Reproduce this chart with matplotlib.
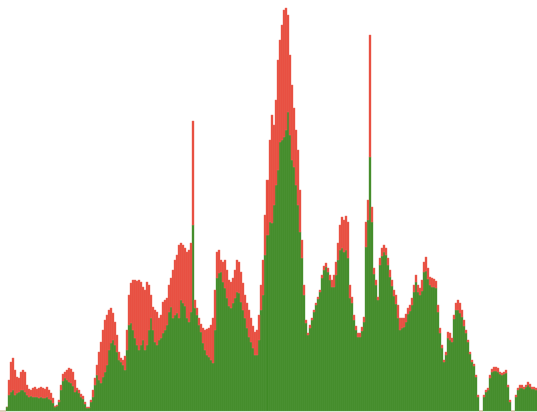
import matplotlib
matplotlib.use("Agg")
import matplotlib.pyplot as plt
import numpy as np

# Total height (green + red) per bar, and green (lower series) per bar
total = [
    0, 0, 0, 4, 31, 49, 53, 41, 34, 33,
    39, 41, 39, 26, 22, 21, 23, 24, 22, 23,
    24, 23, 22, 24, 21, 18, 13, 5, 6, 11,
    26, 37, 39, 41, 43, 42, 39, 31, 23, 21,
    17, 15, 9, 4, 4, 11, 21, 33, 46, 59,
    69, 81, 91, 96, 101, 103, 98, 89, 76, 59,
    53, 51, 55, 81, 116, 128, 131, 131, 130, 131,
    129, 124, 121, 129, 126, 116, 104, 101, 99, 93,
    96, 109, 111, 113, 126, 133, 141, 151, 156, 166,
    168, 166, 163, 159, 161, 168, 290, 111, 103, 93,
    87, 83, 81, 82, 83, 86, 93, 121, 159, 161,
    151, 149, 151, 141, 131, 129, 133, 141, 151, 149,
    139, 128, 116, 108, 101, 93, 85, 79, 81, 96,
    126, 151, 196, 231, 271, 296, 286, 311, 351, 371,
    386, 401, 403, 396, 356, 326, 303, 281, 261, 221,
    171, 126, 91, 78, 86, 93, 101, 108, 114, 121,
    136, 145, 148, 143, 136, 131, 136, 149, 168, 186,
    194, 191, 195, 189, 126, 114, 96, 85, 78, 78,
    84, 94, 189, 211, 376, 204, 143, 131, 114, 153,
    163, 166, 163, 153, 141, 131, 121, 116, 106, 93,
    93, 93, 97, 103, 106, 113, 126, 136, 126, 123,
    131, 149, 154, 143, 134, 133, 132, 130, 106, 83,
    66, 51, 59, 79, 78, 73, 96, 108, 111, 108,
    101, 91, 81, 71, 59, 51, 47, 36, 16, 0,
    0, 16, 21, 23, 36, 42, 44, 44, 43, 39,
    38, 39, 41, 26, 11, 0, 0, 16, 23, 26,
    26, 24, 26, 29, 27, 24, 24, 23,
]
green = [
    0, 0, 0, 4, 16, 19, 21, 16, 18, 19,
    21, 21, 19, 16, 14, 15, 14, 14, 14, 13,
    14, 13, 13, 14, 12, 11, 8, 4, 5, 9,
    21, 30, 33, 31, 29, 28, 25, 19, 21, 18,
    14, 12, 7, 3, 3, 9, 14, 26, 36, 31,
    28, 34, 39, 46, 61, 68, 71, 66, 59, 51,
    49, 46, 41, 61, 86, 88, 81, 73, 66, 61,
    66, 71, 61, 66, 81, 93, 81, 69, 66, 71,
    73, 78, 81, 86, 99, 104, 93, 96, 98, 93,
    111, 108, 105, 93, 89, 99, 186, 103, 96, 86,
    79, 68, 61, 56, 54, 51, 48, 81, 133, 138,
    139, 129, 123, 113, 105, 103, 108, 113, 119, 118,
    109, 101, 93, 83, 74, 69, 63, 56, 56, 71,
    101, 116, 156, 176, 189, 188, 206, 226, 241, 269,
    271, 274, 281, 299, 276, 251, 244, 226, 206, 179,
    153, 116, 88, 76, 83, 91, 99, 106, 112, 119,
    133, 141, 144, 139, 131, 124, 124, 136, 151, 161,
    163, 159, 161, 153, 113, 108, 91, 81, 74, 74,
    80, 89, 164, 191, 254, 189, 137, 126, 111, 146,
    155, 159, 156, 146, 134, 125, 115, 107, 93, 81,
    83, 84, 89, 97, 100, 106, 119, 129, 119, 116,
    120, 139, 140, 132, 126, 124, 124, 123, 99, 78,
    63, 49, 56, 73, 71, 69, 92, 101, 101, 98,
    94, 85, 78, 69, 57, 49, 45, 34, 14, 0,
    0, 14, 19, 21, 33, 39, 40, 40, 39, 37,
    36, 37, 38, 24, 9, 0, 0, 14, 21, 23,
    23, 22, 24, 26, 24, 22, 22, 21,
]

green_arr = np.array(green, dtype=float)
red_arr = np.array(total, dtype=float) - green_arr
x = np.arange(len(total))

fig = plt.figure(figsize=(5.37, 4.12), dpi=100)
ax = fig.add_axes([0, 0, 1, 1])
ax.bar(x, green_arr, width=1.0, color="#3f8a26", edgecolor="#5c9c45",
       linewidth=0.3)
ax.bar(x, red_arr, bottom=green_arr, width=1.0, color="#e8493b",
       edgecolor="#ec6b5e", linewidth=0.3)
ax.set_xlim(-0.5, len(total) - 0.5)
ax.set_ylim(-1, 411)
ax.axis("off")
fig.savefig("out.png", dpi=100, facecolor="white")
